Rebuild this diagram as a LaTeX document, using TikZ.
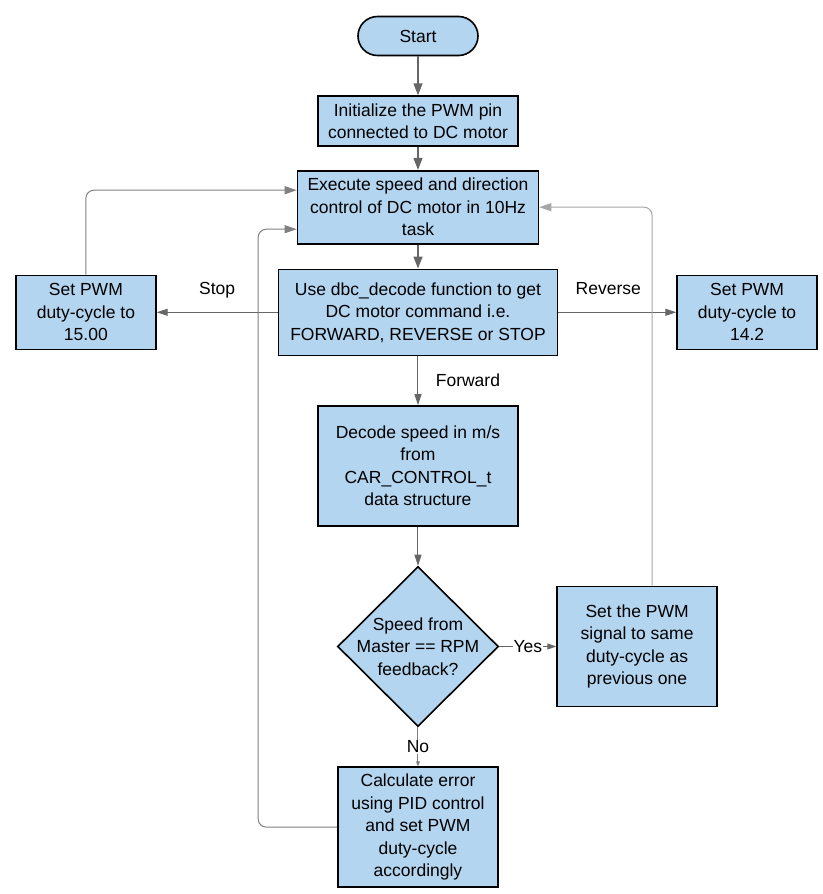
\documentclass[tikz,border=0pt]{standalone}
\usepackage{fontspec}
\setmainfont{Liberation Sans}
\usetikzlibrary{positioning,shapes.geometric,arrows.meta}
\definecolor{boxblue}{RGB}{179,213,239}

\begin{document}
\begin{tikzpicture}[node distance={39pt}, font=\fontsize{17.5}{22.5}\selectfont,
    main/.style = {draw, line width=1.6pt, fill=boxblue, align=center, inner sep=3pt},
    term/.style = {main, rounded corners=19.5pt, minimum width=120pt, minimum height=39pt},
    decision/.style = {main, diamond, minimum width=161pt, minimum height=160pt, inner sep=0pt},
    flow/.style = {draw=black!60, line width=1.5pt, -{Triangle[length=12pt,width=9pt]}},
    thinflow/.style = {draw=black!60, line width=1pt, -{Triangle[length=11pt,width=7pt]}},
    back/.style = {draw=black!50, line width=1pt, rounded corners=8pt, -{Triangle[length=12pt,width=8pt]}},
    tag/.style = {fill=white, inner sep=1pt}]
    \useasboundingbox (-418pt,36pt) rectangle (404pt,-858pt);

    \node[term] (start) {Start};
    \node[main, minimum width=200pt, minimum height=50pt] (init) [below=39pt of start] {Initialize the PWM pin\\connected to DC motor};
    \node[main, minimum width=241pt, minimum height=73pt] (exec) [below=23pt of init] {Execute speed and direction\\control of DC motor in 10Hz\\task};
    \node[main, minimum width=279pt, minimum height=86pt] (use) [below=24pt of exec] {Use dbc\_decode function to get\\DC motor command i.e.\\FORWARD, REVERSE or STOP};
    \node[main, minimum width=140pt, minimum height=74pt] (stop) [left=121pt of use] {Set PWM\\duty-cycle to\\15.00};
    \node[main, minimum width=140pt, minimum height=74pt] (reverse) [right=118pt of use] {Set PWM\\duty-cycle to\\14.2};
    \node[main, minimum width=200pt, minimum height=120pt] (decode) [below=49pt of use] {Decode speed in m/s\\from\\CAR\_CONTROL\_t\\data structure};
    \node[decision, label={[align=center]center:Speed from\\Master == RPM\\feedback?}] (check) [below=of decode] {};
    \node[main, minimum width=160pt, minimum height=120pt] (same) [right=57pt of check] {Set the PWM\\signal to same\\duty-cycle as\\previous one};
    \node[main, minimum width=160pt, minimum height=120pt] (calc) [below=of check] {Calculate error\\using PID control\\and set PWM\\duty-cycle\\accordingly};

    \draw[flow] (start) -- (init);
    \draw[flow] (init) -- (exec);
    \draw[flow] (exec) -- (use);
    \draw[thinflow] (use) -- node[midway, anchor=base, yshift=18pt] {Stop} (stop);
    \draw[thinflow] (use) -- node[midway, anchor=base, yshift=18pt, xshift=-9pt] {Reverse} (reverse);
    \draw[thinflow] (use) -- node[midway, right=14pt] {Forward} (decode);
    \draw[thinflow] (decode) -- (check);
    \draw[draw=black!60, line width=1pt, -{Triangle[length=9pt,width=6pt]}] (check) -- node[tag] {Yes} (same);
    \draw[draw=black!50, line width=1pt, -{Triangle[length=5pt,width=4pt]}] (check) -- node[tag] {No} (calc);

    \draw[back] (stop.north) |- ([yshift=17pt]exec.west);
    \draw[back] (calc.west) -- ++(-79pt,0) |- ([yshift=-22pt]exec.west);
    \draw[back, draw=black!35] ([xshift=15pt]same.north) |- (exec.east);

\end{tikzpicture}
\end{document}
